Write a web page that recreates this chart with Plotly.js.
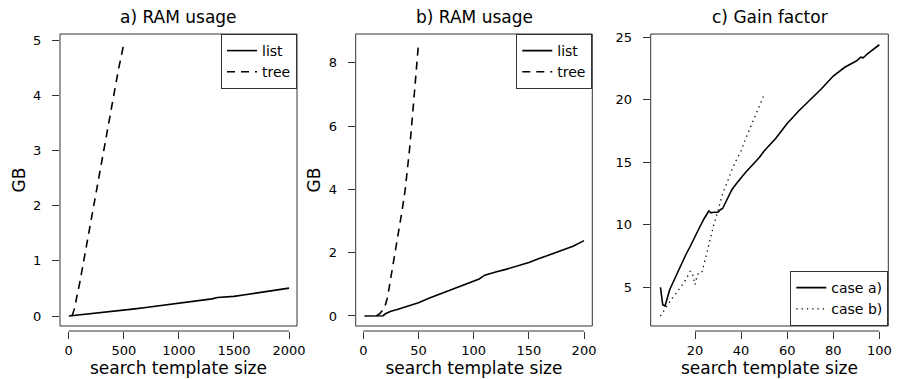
<!DOCTYPE html>
<html>
<head>
<meta charset="utf-8">
<script src="https://cdn.plot.ly/plotly-3.0.1.min.js"></script>
<style>html,body{margin:0;padding:0;background:#fff;}#chart{width:897px;height:379px;}</style>
</head>
<body>
<div id="chart"></div>
<script>
// ---- Data ----
// Panel a) RAM usage
const aListX = [1,100,200,300,400,500,600,700,800,900,950,1000,1100,1200,1300,1350,1400,1450,1500,1600,1700,1800,1900,2000];
const aListY = [0.0,0.02,0.04,0.065,0.09,0.11,0.13,0.155,0.18,0.21,0.215,0.225,0.25,0.28,0.31,0.335,0.34,0.34,0.355,0.385,0.415,0.445,0.475,0.505];
const aTreeX = [30,50,100,150,200,250,300,350,400,450,500];
const aTreeY = [0.0,0.12,0.6,1.15,1.75,2.3,2.85,3.4,3.95,4.45,4.93];

// Panel b) RAM usage
const bListX = [1,5,10,15,18,20,25,30,40,50,60,70,80,90,100,105,110,115,120,130,140,150,160,170,180,190,200];
const bListY = [0,0,0,0,0.01,0.07,0.15,0.2,0.31,0.42,0.57,0.70,0.82,0.95,1.1,1.17,1.29,1.35,1.39,1.48,1.58,1.69,1.82,1.95,2.07,2.2,2.38];
const bTreeX = [12,15,18,20,22,25,28,30,33,35,38,40,42,45,48,50];
const bTreeY = [0.0,0.08,0.2,0.35,0.6,1.2,1.85,2.3,2.9,3.3,4.0,4.6,5.3,6.5,7.8,8.6];

// Panel c) Gain factor
const cAX = [5,6,7,8,9,10,12,14,16,18,20,22,24,25,26,27,28,30,31,32,34,36,38,40,42,44,46,48,50,55,60,65,70,75,80,85,90,92,93,95,100];
const cAY = [5.0,3.6,3.5,4.2,4.8,5.2,6.0,6.9,7.6,8.3,9.1,9.8,10.5,10.8,11.1,10.95,11.0,11.0,11.2,11.3,12.0,12.8,13.3,13.8,14.2,14.6,15.0,15.4,15.9,16.9,18.1,19.1,20.0,20.9,21.9,22.6,23.1,23.4,23.35,23.7,24.4];
const cBX = [5,6,8,10,12,14,16,18,19,20,21,22,23,24,25,26,27,28,29,30,32,34,36,38,40,42,44,46,48,50];
const cBY = [2.7,3.0,3.55,4.1,4.55,5.05,5.6,6.3,6.0,5.2,6.0,6.2,6.2,6.9,7.7,8.4,9.3,9.9,10.5,11.2,12.5,13.4,14.4,15.2,15.9,16.9,17.8,18.7,19.6,20.4];

// Titles and tick labels
const panelTitles = ["a) RAM usage", "b) RAM usage", "c) Gain factor"];
const xTitle = "search template size";
const yTitle = "GB";
const aXTicks = [0,500,1000,1500,2000];
const aYTicks = [0,1,2,3,4,5];
const bXTicks = [0,50,100,150,200];
const bYTicks = [0,2,4,6,8];
const cXTicks = [20,40,60,80,100];
const cYTicks = [5,10,15,20,25];
const seriesNames = ["list", "tree", "case a)", "case b)"];

// ---- Layout geometry ----
const W = 897, H = 379;
const FONT = "DejaVu Sans, Liberation Sans, Arial, sans-serif";
const INK = "#000";
const FRAME = "#333";
const yDom = [53/H, 345/H];
const dom = [[60/W, 297/W], [355.7/W, 592.3/W], [650.7/W, 888.3/W]];
const xAxisPos = (H - 331)/H;

function solid(x, y, name, xa, ya, lg) {
  return {x:x, y:y, name:name, type:'scatter', mode:'lines', xaxis:xa, yaxis:ya, legend:lg,
          line:{color:INK, width:1.6}, hoverinfo:'skip'};
}
function dashed(x, y, name, xa, ya, lg) {
  return {x:x, y:y, name:name, type:'scatter', mode:'lines', xaxis:xa, yaxis:ya, legend:lg,
          line:{color:INK, width:1.6, dash:'8px,6px'}, hoverinfo:'skip'};
}
function dotted(x, y, name, xa, ya, lg) {
  return {x:x, y:y, name:name, type:'scatter', mode:'lines', xaxis:xa, yaxis:ya, legend:lg,
          line:{color:INK, width:1.3, dash:'1.3px,4px'}, hoverinfo:'skip'};
}

const traces = [
  solid(aListX, aListY, seriesNames[0], 'x', 'y', 'legend'),
  dashed(aTreeX, aTreeY, seriesNames[1], 'x', 'y', 'legend'),
  solid(bListX, bListY, seriesNames[0], 'x2', 'y2', 'legend2'),
  dashed(bTreeX, bTreeY, seriesNames[1], 'x2', 'y2', 'legend2'),
  solid(cAX, cAY, seriesNames[2], 'x3', 'y3', 'legend3'),
  dotted(cBX, cBY, seriesNames[3], 'x3', 'y3', 'legend3')
];

function xAxis(d, range, ticks) {
  return {domain:d, range:range, anchor:'free', position:xAxisPos,
          tickmode:'array', tickvals:ticks, ticktext:ticks.map(String),
          ticks:'outside', ticklen:7, tickwidth:1, tickcolor:FRAME,
          showline:false, showgrid:false, zeroline:false, automargin:false,
          ticklabelstandoff:0,
          tickfont:{family:FONT, size:13, color:INK},
          title:{text:xTitle, font:{family:FONT, size:17, color:INK}, standoff:0}};
}
function yAxis(range, ticks, anchor, withTitle) {
  const ax = {domain:yDom, range:range, anchor:anchor,
          tickmode:'array', tickvals:ticks, ticktext:ticks.map(String),
          ticks:'outside', ticklen:7, tickwidth:1, tickcolor:FRAME,
          showline:false, showgrid:false, zeroline:false, automargin:false,
          ticklabelstandoff:8,
          tickfont:{family:FONT, size:13, color:INK}};
  if (withTitle) ax.title = {text:yTitle, font:{family:FONT, size:17, color:INK}, standoff:3};
  return ax;
}

function legendBox(xr, y, yanchor) {
  return {x:xr, xanchor:'right', y:y, yanchor:yanchor, xref:'paper', yref:'paper',
          bgcolor:'#fff', bordercolor:FRAME, borderwidth:1, itemwidth:30,
          font:{family:FONT, size:14, color:INK}, tracegroupgap:0, traceorder:'normal'};
}

const shapes = [];
['', '2', '3'].forEach(function(s){
  shapes.push({type:'rect', xref:'x'+s+' domain', yref:'y'+s+' domain', x0:0, x1:1, y0:0, y1:1,
               line:{color:FRAME, width:1}, fillcolor:'rgba(0,0,0,0)', layer:'above'});
});
// axis lines spanning first to last tick (R style)
[['x', aXTicks], ['x2', bXTicks], ['x3', cXTicks]].forEach(function(p){
  const t = p[1];
  shapes.push({type:'line', xref:p[0], yref:'paper', x0:t[0], x1:t[t.length-1], y0:xAxisPos, y1:xAxisPos,
               line:{color:FRAME, width:1}});
});

const annotations = panelTitles.map(function(t, i){
  return {text:t, xref:'paper', yref:'paper', x:(dom[i][0]+dom[i][1])/2, y:(H-17)/H,
          xanchor:'center', yanchor:'middle', showarrow:false,
          font:{family:FONT, size:17, color:INK}};
});

const layout = {
  width:W, height:H, margin:{l:0, r:0, t:0, b:0, pad:0},
  paper_bgcolor:'#fff', plot_bgcolor:'#fff',
  font:{family:FONT, color:INK},
  showlegend:true,
  xaxis: xAxis(dom[0], [-79, 2072], aXTicks),
  yaxis: yAxis([-0.181, 5.109], aYTicks, 'x', true),
  xaxis2: xAxis(dom[1], [-6.9, 207.5], bXTicks),
  yaxis2: yAxis([-0.316, 8.906], bYTicks, 'x2', true),
  xaxis3: xAxis(dom[2], [0.77, 103.9], cXTicks),
  yaxis3: yAxis([1.9, 25.26], cYTicks, 'x3', false),
  legend: legendBox(dom[0][1], yDom[1], 'top'),
  legend2: legendBox(dom[1][1], yDom[1], 'top'),
  legend3: legendBox(dom[2][1], yDom[0], 'bottom'),
  shapes: shapes,
  annotations: annotations
};

Plotly.newPlot('chart', traces, layout, {staticPlot:true, displayModeBar:false});
</script>
</body>
</html>
